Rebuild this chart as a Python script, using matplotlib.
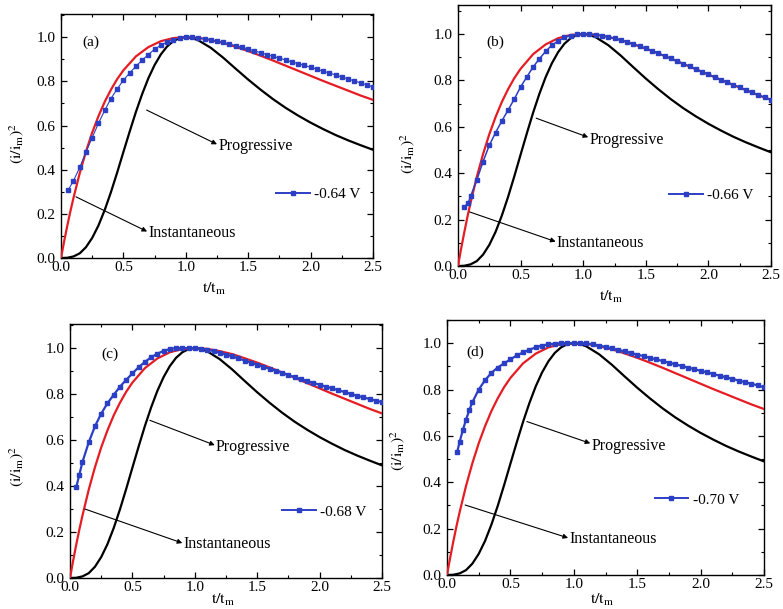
import matplotlib
matplotlib.use("Agg")
import matplotlib.pyplot as plt
from matplotlib.lines import Line2D
from matplotlib.ticker import MultipleLocator

plt.rcParams['font.family'] = ['Liberation Serif', 'DejaVu Serif']
plt.rcParams['mathtext.fontset'] = 'stix'

# Theoretical Scharifker-Hills transients (dimensionless)
t_inst = [0.0, 0.025, 0.05, 0.075, 0.10, 0.15, 0.20, 0.25, 0.30, 0.35, 0.40, 0.45,
          0.50, 0.60, 0.70, 0.80, 0.90, 1.00, 1.10, 1.20, 1.30, 1.40, 1.50, 1.60,
          1.70, 1.80, 1.90, 2.00, 2.10, 2.20, 2.30, 2.40, 2.50]
y_inst = [0.0, 0.075, 0.145, 0.211, 0.272, 0.384, 0.482, 0.568, 0.642, 0.707, 0.762, 0.810,
          0.850, 0.913, 0.955, 0.982, 0.996, 1.000, 0.997, 0.987, 0.974, 0.956, 0.937, 0.916,
          0.894, 0.871, 0.848, 0.825, 0.802, 0.780, 0.758, 0.736, 0.716]

t_prog = [0.0, 0.05, 0.10, 0.15, 0.20, 0.25, 0.30, 0.35, 0.40, 0.45, 0.50, 0.55, 0.60,
          0.65, 0.70, 0.75, 0.80, 0.85, 0.90, 0.95, 1.00, 1.05, 1.10, 1.20, 1.30, 1.40,
          1.50, 1.60, 1.70, 1.80, 1.90, 2.00, 2.10, 2.20, 2.30, 2.40, 2.50]
y_prog = [0.0, 0.001, 0.007, 0.021, 0.049, 0.091, 0.147, 0.217, 0.298, 0.387, 0.480, 0.572, 0.661,
          0.742, 0.814, 0.874, 0.922, 0.958, 0.982, 0.996, 1.000, 0.996, 0.986, 0.952, 0.907, 0.857,
          0.808, 0.762, 0.719, 0.680, 0.645, 0.613, 0.584, 0.557, 0.533, 0.511, 0.490]

# Experimental transients at four deposition potentials
t_a = [0.06, 0.10, 0.15, 0.20, 0.25, 0.30, 0.35, 0.40, 0.45, 0.50, 0.55, 0.60, 0.65, 0.70,
       0.75, 0.80, 0.85, 0.90, 0.95, 1.00, 1.05, 1.10, 1.15, 1.20, 1.25, 1.30, 1.35, 1.40,
       1.45, 1.50, 1.55, 1.60, 1.65, 1.70, 1.75, 1.80, 1.85, 1.90, 1.95, 2.00, 2.05, 2.10,
       2.15, 2.20, 2.25, 2.30, 2.35, 2.40, 2.45, 2.50]
y_a = [0.310, 0.350, 0.410, 0.480, 0.545, 0.610, 0.668, 0.722, 0.765, 0.805, 0.838, 0.868, 0.896, 0.921,
       0.946, 0.963, 0.978, 0.989, 0.996, 1.000, 1.000, 0.997, 0.993, 0.988, 0.982, 0.976, 0.969, 0.962,
       0.954, 0.946, 0.938, 0.930, 0.921, 0.913, 0.905, 0.897, 0.888, 0.880, 0.872, 0.864, 0.855, 0.846,
       0.838, 0.829, 0.820, 0.811, 0.802, 0.793, 0.784, 0.775]

t_b = [0.05, 0.08, 0.10, 0.15, 0.20, 0.25, 0.30, 0.35, 0.40, 0.45, 0.50, 0.55, 0.60, 0.65,
       0.70, 0.75, 0.80, 0.85, 0.90, 0.95, 1.00, 1.05, 1.10, 1.15, 1.20, 1.25, 1.30, 1.35,
       1.40, 1.45, 1.50, 1.55, 1.60, 1.65, 1.70, 1.75, 1.80, 1.85, 1.90, 1.95, 2.00, 2.05,
       2.10, 2.15, 2.20, 2.25, 2.30, 2.35, 2.40, 2.45, 2.50]
y_b = [0.255, 0.270, 0.300, 0.370, 0.450, 0.520, 0.575, 0.625, 0.672, 0.720, 0.772, 0.815, 0.858, 0.893,
       0.925, 0.952, 0.970, 0.985, 0.993, 0.998, 1.000, 1.000, 0.997, 0.993, 0.988, 0.981, 0.974, 0.966,
       0.957, 0.948, 0.938, 0.928, 0.917, 0.906, 0.895, 0.884, 0.872, 0.861, 0.849, 0.838, 0.826, 0.815,
       0.803, 0.792, 0.781, 0.770, 0.759, 0.748, 0.737, 0.727, 0.717]

t_c = [0.05, 0.075, 0.10, 0.15, 0.20, 0.25, 0.30, 0.35, 0.40, 0.45, 0.50, 0.55, 0.60, 0.65,
       0.70, 0.75, 0.80, 0.85, 0.90, 0.95, 1.00, 1.05, 1.10, 1.15, 1.20, 1.25, 1.30, 1.35,
       1.40, 1.45, 1.50, 1.55, 1.60, 1.65, 1.70, 1.75, 1.80, 1.85, 1.90, 1.95, 2.00, 2.05,
       2.10, 2.15, 2.20, 2.25, 2.30, 2.35, 2.40, 2.45, 2.50]
y_c = [0.395, 0.450, 0.505, 0.590, 0.660, 0.715, 0.760, 0.797, 0.832, 0.862, 0.890, 0.917, 0.940, 0.960,
       0.976, 0.988, 0.996, 1.000, 1.000, 1.000, 1.000, 0.998, 0.993, 0.987, 0.980, 0.972, 0.964, 0.955,
       0.946, 0.937, 0.928, 0.919, 0.910, 0.901, 0.892, 0.883, 0.874, 0.865, 0.857, 0.849, 0.841, 0.833,
       0.825, 0.817, 0.809, 0.801, 0.793, 0.786, 0.779, 0.772, 0.765]

t_d = [0.08, 0.10, 0.125, 0.15, 0.175, 0.20, 0.25, 0.30, 0.35, 0.40, 0.45, 0.50, 0.55, 0.60,
       0.65, 0.70, 0.75, 0.80, 0.85, 0.90, 0.95, 1.00, 1.05, 1.10, 1.15, 1.20, 1.25, 1.30,
       1.35, 1.40, 1.45, 1.50, 1.55, 1.60, 1.65, 1.70, 1.75, 1.80, 1.85, 1.90, 1.95, 2.00,
       2.05, 2.10, 2.15, 2.20, 2.25, 2.30, 2.35, 2.40, 2.45, 2.50]
y_d = [0.530, 0.575, 0.625, 0.670, 0.710, 0.745, 0.800, 0.840, 0.872, 0.895, 0.913, 0.930, 0.947, 0.960,
       0.972, 0.982, 0.990, 0.995, 0.998, 1.000, 1.000, 1.000, 1.000, 0.999, 0.995, 0.990, 0.984, 0.978,
       0.971, 0.965, 0.958, 0.951, 0.944, 0.937, 0.930, 0.923, 0.916, 0.909, 0.902, 0.895, 0.888, 0.881,
       0.874, 0.867, 0.860, 0.853, 0.846, 0.839, 0.832, 0.825, 0.818, 0.810]

panel_tags = ['(a)', '(b)', '(c)', '(d)']
potentials = ['-0.64 V', '-0.66 V', '-0.68 V', '-0.70 V']
x_ticks = [0.0, 0.5, 1.0, 1.5, 2.0, 2.5]
y_ticks = [0.0, 0.2, 0.4, 0.6, 0.8, 1.0]

W, H = 783, 609
fig = plt.figure(figsize=(W / 100, H / 100), dpi=100)

# per-panel geometry in pixels: left, right, top, bottom
boxes = [(61, 373, 14, 258), (458, 771, 5, 266), (70, 382, 324, 578), (447, 764, 320, 575)]
ytops = [1.105, 1.125, 1.105, 1.10]
series = [(t_a, y_a), (t_b, y_b), (t_c, y_c), (t_d, y_d)]
data_lw = [0.8, 1.1, 1.6, 1.6]
data_ms = [2.4, 2.4, 2.8, 2.8]

# annotation layout per panel
tag_xy = [(0.17, 0.975), (0.23, 0.965), (0.25, 0.975), (0.15, 0.96)]
prog_arrow = [((0.686, 0.67), (1.25, 0.515)), ((0.625, 0.637), (1.04, 0.555)),
              ((0.64, 0.686), (1.16, 0.578)), ((0.63, 0.662), (1.13, 0.568))]
inst_arrow = [((0.12, 0.277), (0.69, 0.12)), ((0.093, 0.233), (0.78, 0.105)),
              ((0.12, 0.30), (0.90, 0.152)), ((0.143, 0.302), (0.955, 0.16))]
legend_anchor = [(0.69, 0.262), (0.675, 0.272), (0.68, 0.26), (0.655, 0.295)]
ylabel_pos = [(-0.112, 0.47), (-0.13, 0.43), (-0.14, 0.44), (-0.125, 0.49)]
xlabel_pos = [(0.49, -0.092), (0.49, -0.088), (0.49, -0.056), (0.49, -0.066)]

BLUE = '#2b3fc4'
RED = '#e51c23'

for i in range(4):
    l, r, t, b = boxes[i]
    ax = fig.add_axes([l / W, (H - b) / H, (r - l) / W, (b - t) / H])
    ax.plot(t_prog, y_prog, color='black', lw=1.6, zorder=2)
    ax.plot(t_inst, y_inst, color=RED, lw=1.6, zorder=3)
    tx, ty = series[i]
    ax.plot(tx, ty, color=BLUE, lw=data_lw[i], marker='s', ms=data_ms[i],
            mec=BLUE, mfc=BLUE, zorder=4)

    ax.set_xlim(0, 2.5)
    ax.set_ylim(0, ytops[i])
    ax.set_xticks(x_ticks)
    ax.set_yticks(y_ticks)
    ax.xaxis.set_minor_locator(MultipleLocator(0.25))
    ax.yaxis.set_minor_locator(MultipleLocator(0.1))
    ax.tick_params(which='both', direction='in', top=True, right=True, labelsize=11)
    ax.tick_params(which='major', length=4, width=0.9)
    ax.tick_params(which='minor', length=2, width=0.8)
    ax.tick_params(axis='x', pad=2)
    ax.tick_params(axis='y', pad=4)
    for s in ax.spines.values():
        s.set_linewidth(1.0)

    ax.set_ylabel(r'$\mathrm{(i/i_m)^2}$', fontsize=11.5)
    ax.yaxis.set_label_coords(*ylabel_pos[i])
    ax.set_xlabel(r'$\mathrm{t/t_m}$', fontsize=11.5)
    ax.xaxis.set_label_coords(*xlabel_pos[i])

    ax.text(tag_xy[i][0], tag_xy[i][1], panel_tags[i], fontsize=11, va='center', ha='left')

    arrow_kw = dict(arrowstyle='-|>', color='black', lw=0.8, mutation_scale=7,
                    shrinkA=0, shrinkB=0)
    (p0, p1) = prog_arrow[i]
    ax.annotate('', xy=p1, xytext=p0, arrowprops=arrow_kw)
    ax.text(p1[0] + 0.01, p1[1] - 0.01, 'Progressive', fontsize=11.5, va='center', ha='left')
    (q0, q1) = inst_arrow[i]
    ax.annotate('', xy=q1, xytext=q0, arrowprops=arrow_kw)
    ax.text(q1[0] + 0.01, q1[1] - 0.005, 'Instantaneous', fontsize=11.5, va='center', ha='left')

    handle = Line2D([], [], color=BLUE, lw=1.4, marker='s', ms=2.6, mec=BLUE, mfc=BLUE)
    ax.legend([handle], [potentials[i]], loc='center left', bbox_to_anchor=legend_anchor[i],
              frameon=False, borderpad=0, borderaxespad=0, handlelength=2.2,
              handletextpad=0.3, fontsize=11, numpoints=1)

fig.savefig('out.png', dpi=100)
